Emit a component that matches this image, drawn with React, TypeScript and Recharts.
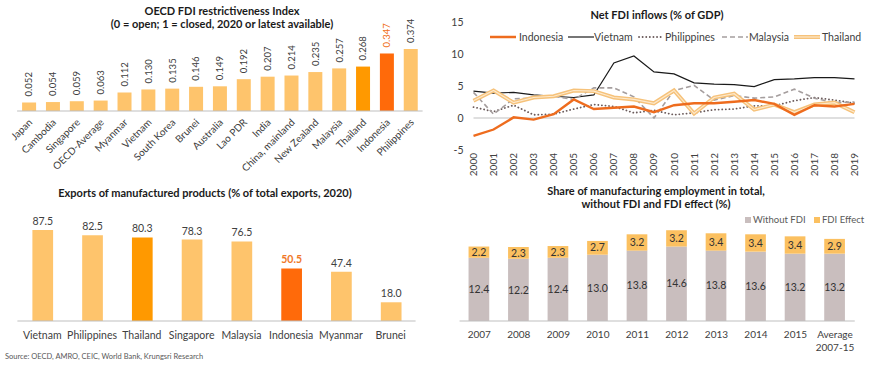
import React from 'react';
import { BarChart, Bar, XAxis, YAxis, Cell, LabelList, LineChart, Line, ReferenceLine } from 'recharts';

const FONT = "Lato, 'Liberation Sans', Arial, sans-serif";

// Panel 1: OECD FDI restrictiveness index
const fdiCountries = ['Japan', 'Cambodia', 'Singapore', 'OECD-Average', 'Myanmar', 'Vietnam', 'South Korea', 'Brunei', 'Australia', 'Lao PDR', 'India', 'China, mainland', 'New Zealand', 'Malaysia', 'Thailand', 'Indonesia', 'Philippines'];
const fdiIndex = [0.052, 0.054, 0.059, 0.063, 0.112, 0.130, 0.135, 0.146, 0.149, 0.192, 0.207, 0.214, 0.235, 0.257, 0.268, 0.347, 0.374];

// Panel 2: Net FDI inflows (% of GDP)
const years = ['2000', '2001', '2002', '2003', '2004', '2005', '2006', '2007', '2008', '2009', '2010', '2011', '2012', '2013', '2014', '2015', '2016', '2017', '2018', '2019'];
const indonesiaFdi = [-2.8, -1.8, 0.1, -0.25, 0.6, 2.9, 1.4, 1.6, 1.8, 0.9, 2.0, 2.3, 2.3, 2.55, 2.8, 2.2, 0.5, 2.0, 1.8, 2.2];
const vietnamFdi = [4.2, 3.9, 4.0, 3.6, 3.4, 3.2, 3.6, 8.6, 9.7, 7.2, 6.9, 5.5, 5.3, 5.2, 4.9, 6.0, 6.1, 6.3, 6.3, 6.1];
const philippinesFdi = [1.7, 1.0, 2.0, 0.5, 0.6, 1.4, 2.1, 1.8, 0.8, 1.2, 0.5, 0.8, 1.3, 1.4, 1.9, 1.9, 2.7, 3.2, 2.8, 2.3];
const malaysiaFdi = [4.0, 0.6, 3.0, 3.1, 3.4, 2.9, 4.7, 4.7, 3.3, 0.0, 4.3, 5.1, 2.8, 3.5, 3.1, 3.3, 4.5, 3.1, 2.4, 2.5];
const thailandFdi = [2.7, 4.3, 2.4, 3.2, 3.4, 4.3, 4.2, 3.2, 2.9, 2.3, 4.3, 0.7, 3.2, 3.8, 1.3, 2.1, 0.9, 2.1, 2.4, 0.9];
const fdiYTicks = [-5, 0, 5, 10, 15];

// Panel 3: Exports of manufactured products
const exportCountries = ['Vietnam', 'Philippines', 'Thailand', 'Singapore', 'Malaysia', 'Indonesia', 'Myanmar', 'Brunei'];
const exportShares = [87.5, 82.5, 80.3, 78.3, 76.5, 50.5, 47.4, 18.0];

// Panel 4: Share of manufacturing employment
const empCategories = ['2007', '2008', '2009', '2010', '2011', '2012', '2013', '2014', '2015', 'Average 2007-15'];
const withoutFdi = [12.4, 12.2, 12.4, 13.0, 13.8, 14.6, 13.8, 13.6, 13.2, 13.2];
const fdiEffect = [2.2, 2.3, 2.3, 2.7, 3.2, 3.2, 3.4, 3.4, 3.4, 2.9];

const LIGHT = '#fec46c';
const THAI = '#ff9900';
const INDO = '#ff6a0a';
const colorFor = (name: string) => (name === 'Thailand' ? THAI : name === 'Indonesia' ? INDO : LIGHT);

const fdiData = fdiCountries.map((name, i) => ({ name, value: fdiIndex[i] }));
const lineData = years.map((year, i) => ({
  year,
  Indonesia: indonesiaFdi[i],
  Vietnam: vietnamFdi[i],
  Philippines: philippinesFdi[i],
  Malaysia: malaysiaFdi[i],
  Thailand: thailandFdi[i],
}));
const exportData = exportCountries.map((name, i) => ({ name, value: exportShares[i] }));
const empData = empCategories.map((name, i) => ({ name, without: withoutFdi[i], effect: fdiEffect[i] }));

const TEXT = '#404040';

const RotTick = (props: any) => {
  const { x, y, payload } = props;
  const tx = x + 4;
  const ty = y + 12;
  return (
    <text x={tx} y={ty} transform={`rotate(-45, ${tx}, ${ty})`} textAnchor="end" fontSize={10} fill={TEXT} fontFamily={FONT}>
      {payload.value}
    </text>
  );
};

const FdiLabel = (props: any) => {
  const { x, y, width, value, index } = props;
  const cx = x + width / 2;
  const ty = y - 6;
  const isIndo = fdiCountries[index] === 'Indonesia';
  return (
    <text x={cx} y={ty} dy="0.35em" transform={`rotate(-90, ${cx}, ${ty})`} textAnchor="start" fontSize={9.5} fill={isIndo ? '#f07020' : TEXT} fontFamily={FONT}>
      {Number(value).toFixed(3)}
    </text>
  );
};

const YearTick = (props: any) => {
  const { x, y, payload } = props;
  const ty = y + 3;
  return (
    <text x={x} y={ty} dy="0.35em" transform={`rotate(-90, ${x}, ${ty})`} textAnchor="end" fontSize={10} fill={TEXT} fontFamily={FONT}>
      {payload.value}
    </text>
  );
};

const ExportLabel = (props: any) => {
  const { x, y, width, value, index } = props;
  const isIndo = exportCountries[index] === 'Indonesia';
  return (
    <text x={x + width / 2} y={y - 5} textAnchor="middle" fontSize={10.5} fontWeight={isIndo ? 'bold' : 'normal'} fill={isIndo ? '#f07828' : TEXT} fontFamily={FONT}>
      {Number(value).toFixed(1)}
    </text>
  );
};

const ExportTick = (props: any) => {
  const { x, y, payload } = props;
  return (
    <text x={x} y={y + 18} textAnchor="middle" fontSize={10.5} fill={TEXT} fontFamily={FONT}>
      {payload.value}
    </text>
  );
};

const EmpTick = (props: any) => {
  const { x, y, payload } = props;
  const str = String(payload.value);
  const parts = str.startsWith('Average') ? ['Average', str.replace('Average ', '')] : [str];
  return (
    <text x={x} y={y + 17} textAnchor="middle" fontSize={10} fill={TEXT} fontFamily={FONT}>
      {parts.map((p, i) => (
        <tspan key={i} x={x} dy={i === 0 ? 0 : 13.4}>{p}</tspan>
      ))}
    </text>
  );
};

const CenterLabel = (props: any) => {
  const { x, y, width, height, value } = props;
  return (
    <text x={x + width / 2} y={y + height / 2} dy="0.35em" textAnchor="middle" fontSize={10.5} fill="#333" fontFamily={FONT}>
      {Number(value).toFixed(1)}
    </text>
  );
};

const Title = ({ cx, cy, lines, size = 11 }: { cx: number; cy: number; lines: string[]; size?: number }) => {
  const lh = 13;
  const total = lh * lines.length;
  return (
    <div
      style={{
        position: 'absolute',
        left: cx - 200,
        width: 400,
        top: cy - total / 2,
        textAlign: 'center',
        fontFamily: FONT,
        fontWeight: 'bold',
        fontSize: size,
        lineHeight: `${lh}px`,
        color: '#1a1a1a',
        whiteSpace: 'nowrap',
      }}
    >
      {lines.map((l, i) => (
        <div key={i}>{l}</div>
      ))}
    </div>
  );
};

type LegendItem = { name: string; left: number; textLeft: number; kind: string };
const lineLegend: LegendItem[] = [
  { name: 'Indonesia', left: 490, textLeft: 519, kind: 'indo' },
  { name: 'Vietnam', left: 568, textLeft: 594, kind: 'viet' },
  { name: 'Philippines', left: 638, textLeft: 665, kind: 'phil' },
  { name: 'Malaysia', left: 722, textLeft: 749, kind: 'malay' },
  { name: 'Thailand', left: 794, textLeft: 822, kind: 'thai' },
];

const LegendSample = ({ kind }: { kind: string }) => {
  const w = 26;
  const y = 5;
  return (
    <svg width={w} height={10} style={{ display: 'block' }}>
      {kind === 'indo' && <line x1={0} x2={w} y1={y} y2={y} stroke="#ee6c1e" strokeWidth={2.5} />}
      {kind === 'viet' && <line x1={0} x2={w} y1={y} y2={y} stroke="#1a1a1a" strokeWidth={1.2} />}
      {kind === 'phil' && <line x1={1} x2={w} y1={y} y2={y} stroke="#6b5b5b" strokeWidth={1.8} strokeDasharray="0.1 3.5" strokeLinecap="round" />}
      {kind === 'malay' && <line x1={0} x2={w} y1={y} y2={y} stroke="#a59e9e" strokeWidth={1.6} strokeDasharray="5 3" />}
      {kind === 'thai' && (
        <>
          <line x1={0} x2={w} y1={y} y2={y} stroke="#f6c27a" strokeWidth={4} />
          <line x1={0} x2={w} y1={y} y2={y} stroke="#fde9cc" strokeWidth={1.2} />
        </>
      )}
    </svg>
  );
};

export default function App() {
  return (
    <div style={{ position: 'absolute', left: 0, top: 0, width: 870, height: 366, background: '#fff', overflow: 'hidden', fontFamily: FONT }}>
      {/* Panel 1 */}
      <div style={{ position: 'absolute', left: 0, top: 0 }}>
        <BarChart width={435} height={175} data={fdiData} margin={{ top: 44.7, right: 12.4, bottom: 0, left: 17.1 }} barSize={14}>
          <XAxis dataKey="name" interval={0} height={64} tickSize={0} tickMargin={0} tickLine={false} axisLine={{ stroke: '#bfbfbf' }} tick={<RotTick />} />
          <YAxis hide width={0} domain={[0, 0.4]} />
          <Bar dataKey="value" isAnimationActive={false}>
            {fdiData.map((d) => (
              <Cell key={d.name} fill={colorFor(d.name)} />
            ))}
            <LabelList dataKey="value" content={<FdiLabel />} />
          </Bar>
        </BarChart>
      </div>
      <Title cx={222} cy={17.3} lines={['OECD FDI restrictiveness Index', '(0 = open; 1 = closed, 2020 or latest available)']} />

      {/* Panel 2 */}
      <div style={{ position: 'absolute', left: 435, top: 0 }}>
        <LineChart width={435} height={180} data={lineData} margin={{ top: 22, right: 15.5, bottom: 0, left: 8.5 }}>
          <XAxis dataKey="year" interval={0} height={30} tickSize={0} tickMargin={0} axisLine={false} tickLine={false} tick={<YearTick />} />
          <YAxis width={30} domain={[-5, 15]} ticks={fdiYTicks} axisLine={false} tickLine={false} tickSize={0} tickMargin={10} tick={{ fontSize: 10.5, fill: TEXT, fontFamily: FONT }} />
          <ReferenceLine y={0} stroke="#bfbfbf" strokeWidth={1} />
          <Line type="linear" dataKey="Vietnam" stroke="#1a1a1a" strokeWidth={1.2} dot={false} isAnimationActive={false} />
          <Line type="linear" dataKey="Philippines" stroke="#6b5b5b" strokeWidth={1.8} strokeDasharray="0.1 3.5" strokeLinecap="round" dot={false} isAnimationActive={false} />
          <Line type="linear" dataKey="Malaysia" stroke="#a59e9e" strokeWidth={1.6} strokeDasharray="5 3" dot={false} isAnimationActive={false} />
          <Line type="linear" dataKey="Thailand" stroke="#f6c27a" strokeWidth={4} dot={false} isAnimationActive={false} />
          <Line type="linear" dataKey="Thailand" stroke="#fde9cc" strokeWidth={1.2} dot={false} isAnimationActive={false} legendType="none" />
          <Line type="linear" dataKey="Indonesia" stroke="#ee6c1e" strokeWidth={2.4} dot={false} isAnimationActive={false} />
        </LineChart>
      </div>
      <Title cx={657} cy={14} lines={['Net FDI inflows (% of GDP)']} />
      {lineLegend.map((it) => (
        <React.Fragment key={it.name}>
          <div style={{ position: 'absolute', left: it.left, top: 32 }}>
            <LegendSample kind={it.kind} />
          </div>
          <div style={{ position: 'absolute', left: it.textLeft, top: 30, fontSize: 10.5, lineHeight: '14px', color: TEXT, fontFamily: FONT, whiteSpace: 'nowrap' }}>
            {it.name}
          </div>
        </React.Fragment>
      ))}

      {/* Panel 3 */}
      <div style={{ position: 'absolute', left: 0, top: 175 }}>
        <BarChart width={435} height={175} data={exportData} margin={{ top: 42, right: 19.4, bottom: 0, left: 17.4 }} barSize={20.7}>
          <XAxis dataKey="name" interval={0} height={29} tickSize={0} tickMargin={0} tickLine={false} axisLine={{ stroke: '#bfbfbf' }} tick={<ExportTick />} />
          <YAxis hide width={0} domain={[0, 100]} />
          <Bar dataKey="value" isAnimationActive={false}>
            {exportData.map((d) => (
              <Cell key={d.name} fill={colorFor(d.name)} />
            ))}
            <LabelList dataKey="value" content={<ExportLabel />} />
          </Bar>
        </BarChart>
      </div>
      <Title cx={205} cy={192} lines={['Exports of manufactured products (% of total exports, 2020)']} />
      <div style={{ position: 'absolute', left: 5, top: 352, fontSize: 7.5, lineHeight: '10px', color: '#595959', fontFamily: FONT, whiteSpace: 'nowrap' }}>
        Source: OECD, AMRO, CEIC, World Bank, Krungsri Research
      </div>

      {/* Panel 4 */}
      <div style={{ position: 'absolute', left: 435, top: 175 }}>
        <BarChart width={435} height={191} data={empData} margin={{ top: 44, right: 15.25, bottom: 0, left: 24.55 }} barSize={20.7}>
          <XAxis dataKey="name" interval={0} height={45} tickSize={0} tickMargin={0} tickLine={false} axisLine={{ stroke: '#bfbfbf' }} tick={<EmpTick />} />
          <YAxis hide width={0} domain={[0, 20]} />
          <Bar dataKey="without" stackId="a" fill="#c9bebe" isAnimationActive={false}>
            <LabelList dataKey="without" content={<CenterLabel />} />
          </Bar>
          <Bar dataKey="effect" stackId="a" fill="#fbc060" isAnimationActive={false}>
            <LabelList dataKey="effect" content={<CenterLabel />} />
          </Bar>
        </BarChart>
      </div>
      <Title cx={656} cy={197} lines={['Share of manufacturing employment in total,', 'without FDI and FDI effect (%)']} />
      <div style={{ position: 'absolute', left: 745, top: 217, width: 6, height: 6, background: '#c9bebe' }} />
      <div style={{ position: 'absolute', left: 753, top: 213, fontSize: 9.5, lineHeight: '13px', color: '#595959', fontFamily: FONT, whiteSpace: 'nowrap' }}>Without FDI</div>
      <div style={{ position: 'absolute', left: 814, top: 217, width: 6, height: 6, background: '#fbc060' }} />
      <div style={{ position: 'absolute', left: 822, top: 213, fontSize: 9.5, lineHeight: '13px', color: '#595959', fontFamily: FONT, whiteSpace: 'nowrap' }}>FDI Effect</div>
    </div>
  );
}
